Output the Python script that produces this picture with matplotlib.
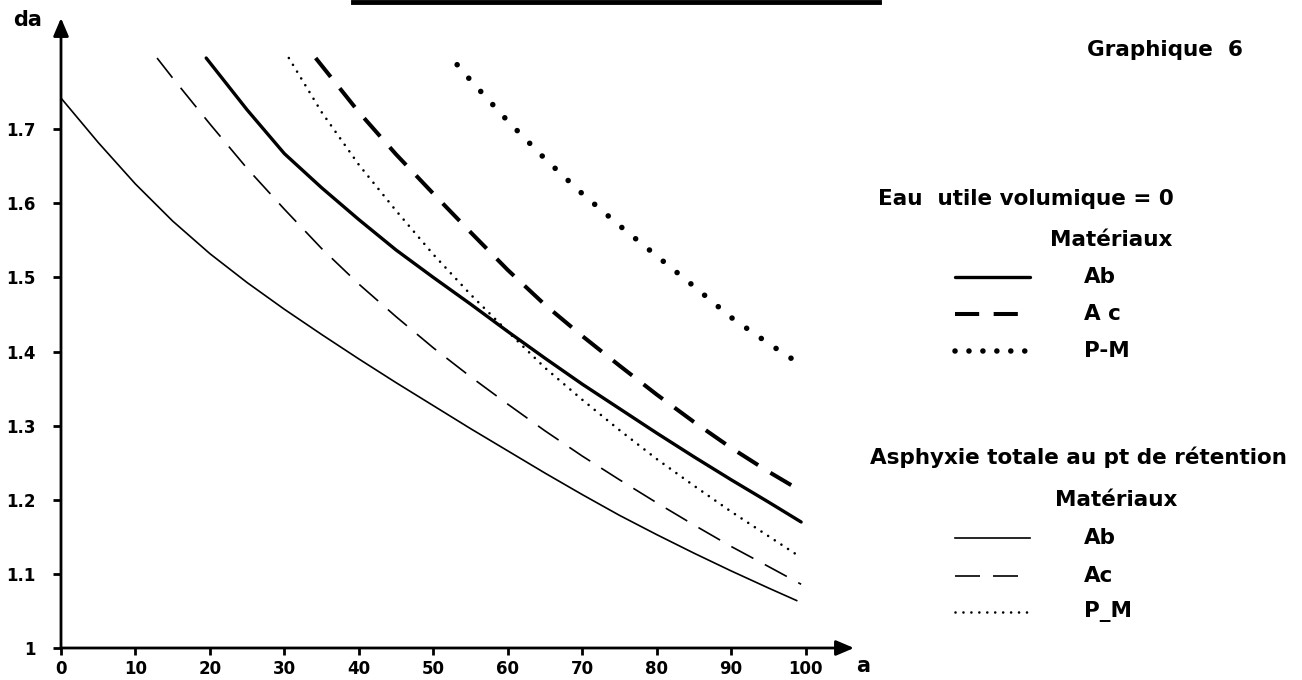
import matplotlib
matplotlib.use("Agg")
import matplotlib.pyplot as plt
from matplotlib.lines import Line2D

# ---- data ----
# "Eau utile volumique = 0" (thick lines)
ab_eau_x = [19.5, 25, 30, 35, 40, 45, 50, 55, 60, 65, 70, 75, 80, 85, 90, 95, 99.4]
ab_eau_y = [1.796, 1.726, 1.667, 1.621, 1.578, 1.537, 1.500, 1.464, 1.427, 1.391,
            1.356, 1.323, 1.290, 1.258, 1.227, 1.197, 1.170]

ac_eau_x = [34.2, 40, 45, 50, 55, 60, 65, 70, 75, 80, 85, 90, 95, 99.7]
ac_eau_y = [1.796, 1.723, 1.666, 1.613, 1.561, 1.510, 1.463, 1.421, 1.381, 1.342,
            1.305, 1.270, 1.238, 1.210]

pm_eau_x = [53.2, 55, 60, 65, 70, 75, 80, 85, 90, 95, 99.1]
pm_eau_y = [1.787, 1.766, 1.711, 1.660, 1.613, 1.570, 1.529, 1.488, 1.446, 1.411, 1.384]

# "Asphyxie totale au pt de rétention" (thin lines)
ab_asp_x = [0, 5, 10, 15, 20, 25, 30, 35, 40, 45, 50, 55, 60, 65, 70, 75, 80, 85, 90, 95, 98.8]
ab_asp_y = [1.742, 1.682, 1.626, 1.576, 1.532, 1.493, 1.457, 1.423, 1.390, 1.358, 1.327,
            1.296, 1.266, 1.236, 1.207, 1.179, 1.153, 1.128, 1.104, 1.081, 1.064]

ac_asp_x = [12.9, 15, 20, 25, 30, 35, 40, 45, 50, 55, 60, 65, 70, 75, 80, 85, 90, 95, 99.4]
ac_asp_y = [1.796, 1.769, 1.707, 1.647, 1.592, 1.539, 1.491, 1.447, 1.405, 1.366, 1.329,
            1.293, 1.259, 1.227, 1.196, 1.166, 1.137, 1.110, 1.086]

pm_asp_x = [30.6, 35, 40, 45, 50, 55, 60, 65, 70, 75, 80, 85, 90, 95, 99.1]
pm_asp_y = [1.796, 1.723, 1.652, 1.590, 1.531, 1.477, 1.427, 1.378, 1.335, 1.294, 1.255,
            1.219, 1.184, 1.151, 1.124]

x_ticks = [0, 10, 20, 30, 40, 50, 60, 70, 80, 90, 100]
y_ticks = [1.0, 1.1, 1.2, 1.3, 1.4, 1.5, 1.6, 1.7]
y_tick_labels = ["1", "1.1", "1.2", "1.3", "1.4", "1.5", "1.6", "1.7"]

# ---- styles ----
FONT = "DejaVu Sans"
W, H = 1302, 680
fig = plt.figure(figsize=(W / 100, H / 100), dpi=100)

def fx(px):
    return px / W

def fy(py):
    return 1 - py / H

X0, X1 = 61, 854   # pixel of x=0 and x=106.5
Y0, Y1 = 648, 18   # pixel of y=1 and y=1.85
ax = fig.add_axes([fx(X0), fy(Y0), fx(X1 - X0), (Y0 - Y1) / H])
ax.set_xlim(0, 106.5)
ax.set_ylim(1.0, 1.85)
for s in ax.spines.values():
    s.set_visible(False)

thick_solid = dict(color="black", lw=2.4, solid_capstyle="round", solid_joinstyle="round")
thick_dash = dict(color="black", lw=2.9, linestyle=(0, (6.0, 3.6)), dash_capstyle="butt")
thick_dot = dict(color="black", lw=4.0, linestyle=(0, (0.01, 3.2)), dash_capstyle="round")
thin_solid = dict(color="black", lw=1.2, solid_joinstyle="round")
thin_dash = dict(color="black", lw=1.2, linestyle=(0, (15.0, 7.8)), dash_capstyle="butt")
thin_dot = dict(color="black", lw=1.9, linestyle=(0, (0.01, 3.0)), dash_capstyle="round")

ax.plot(ab_eau_x, ab_eau_y, **thick_solid)
ax.plot(ac_eau_x, ac_eau_y, **thick_dash)
ax.plot(pm_eau_x, pm_eau_y, **thick_dot)
ax.plot(ab_asp_x, ab_asp_y, **thin_solid)
ax.plot(ac_asp_x, ac_asp_y, **thin_dash)
ax.plot(pm_asp_x, pm_asp_y, **thin_dot)

# axes with arrows
arrow = dict(arrowstyle="-|>,head_length=0.4,head_width=0.17", mutation_scale=27,
             lw=2.0, color="black", shrinkA=0, shrinkB=0)
ax.annotate("", xy=(0, 1.85), xytext=(0, 1.0), arrowprops=arrow, annotation_clip=False)
ax.annotate("", xy=(106.5, 1.0), xytext=(0, 1.0), arrowprops=arrow, annotation_clip=False)

ax.set_xticks(x_ticks)
ax.set_xticklabels([str(v) for v in x_ticks], fontsize=12, fontweight="bold", family=FONT)
ax.set_yticks(y_ticks)
ax.set_yticklabels(y_tick_labels, fontsize=12, fontweight="bold", family=FONT)
ax.tick_params(axis="x", direction="out", length=5, width=2, pad=4)
ax.tick_params(axis="y", direction="out", length=6, width=2, pad=12)

# axis labels
fig.text(fx(28), fy(20), "da", fontsize=15, fontweight="bold", family=FONT, ha="center", va="center")
fig.text(fx(863), fy(666), "a", fontsize=15, fontweight="bold", family=FONT, ha="center", va="center")

# top underline fragment from the scanned page
fig.add_artist(Line2D([fx(353), fx(879)], [fy(2), fy(2)], color="black", lw=3.5))

# right-side annotations / legend
tkw = dict(fontsize=15.5, fontweight="bold", family=FONT, va="center", ha="left")
fig.text(fx(1087), fy(50), "Graphique  6", **tkw)
fig.text(fx(878), fy(199), "Eau  utile volumique = 0", **tkw)
fig.text(fx(1050), fy(240), "Matériaux", **tkw)
fig.text(fx(870), fy(457), "Asphyxie totale au pt de rétention", **tkw)
fig.text(fx(1055), fy(500), "Matériaux", **tkw)

leg_thick_dot = dict(thick_dot, linestyle=(0, (0.01, 2.5)))
leg_thick = [(277, thick_solid, "Ab"), (314, thick_dash, "A c"), (351, leg_thick_dot, "P-M")]
leg_thin = [(538, thin_solid, "Ab"), (576, thin_dash, "Ac"), (612, thin_dot, "P_M")]
for py, st, lab in leg_thick + leg_thin:
    fig.add_artist(Line2D([fx(955), fx(1030)], [fy(py), fy(py)], **st))
    fig.text(fx(1084), fy(py), lab, **tkw)

fig.savefig("out.png", dpi=100)
